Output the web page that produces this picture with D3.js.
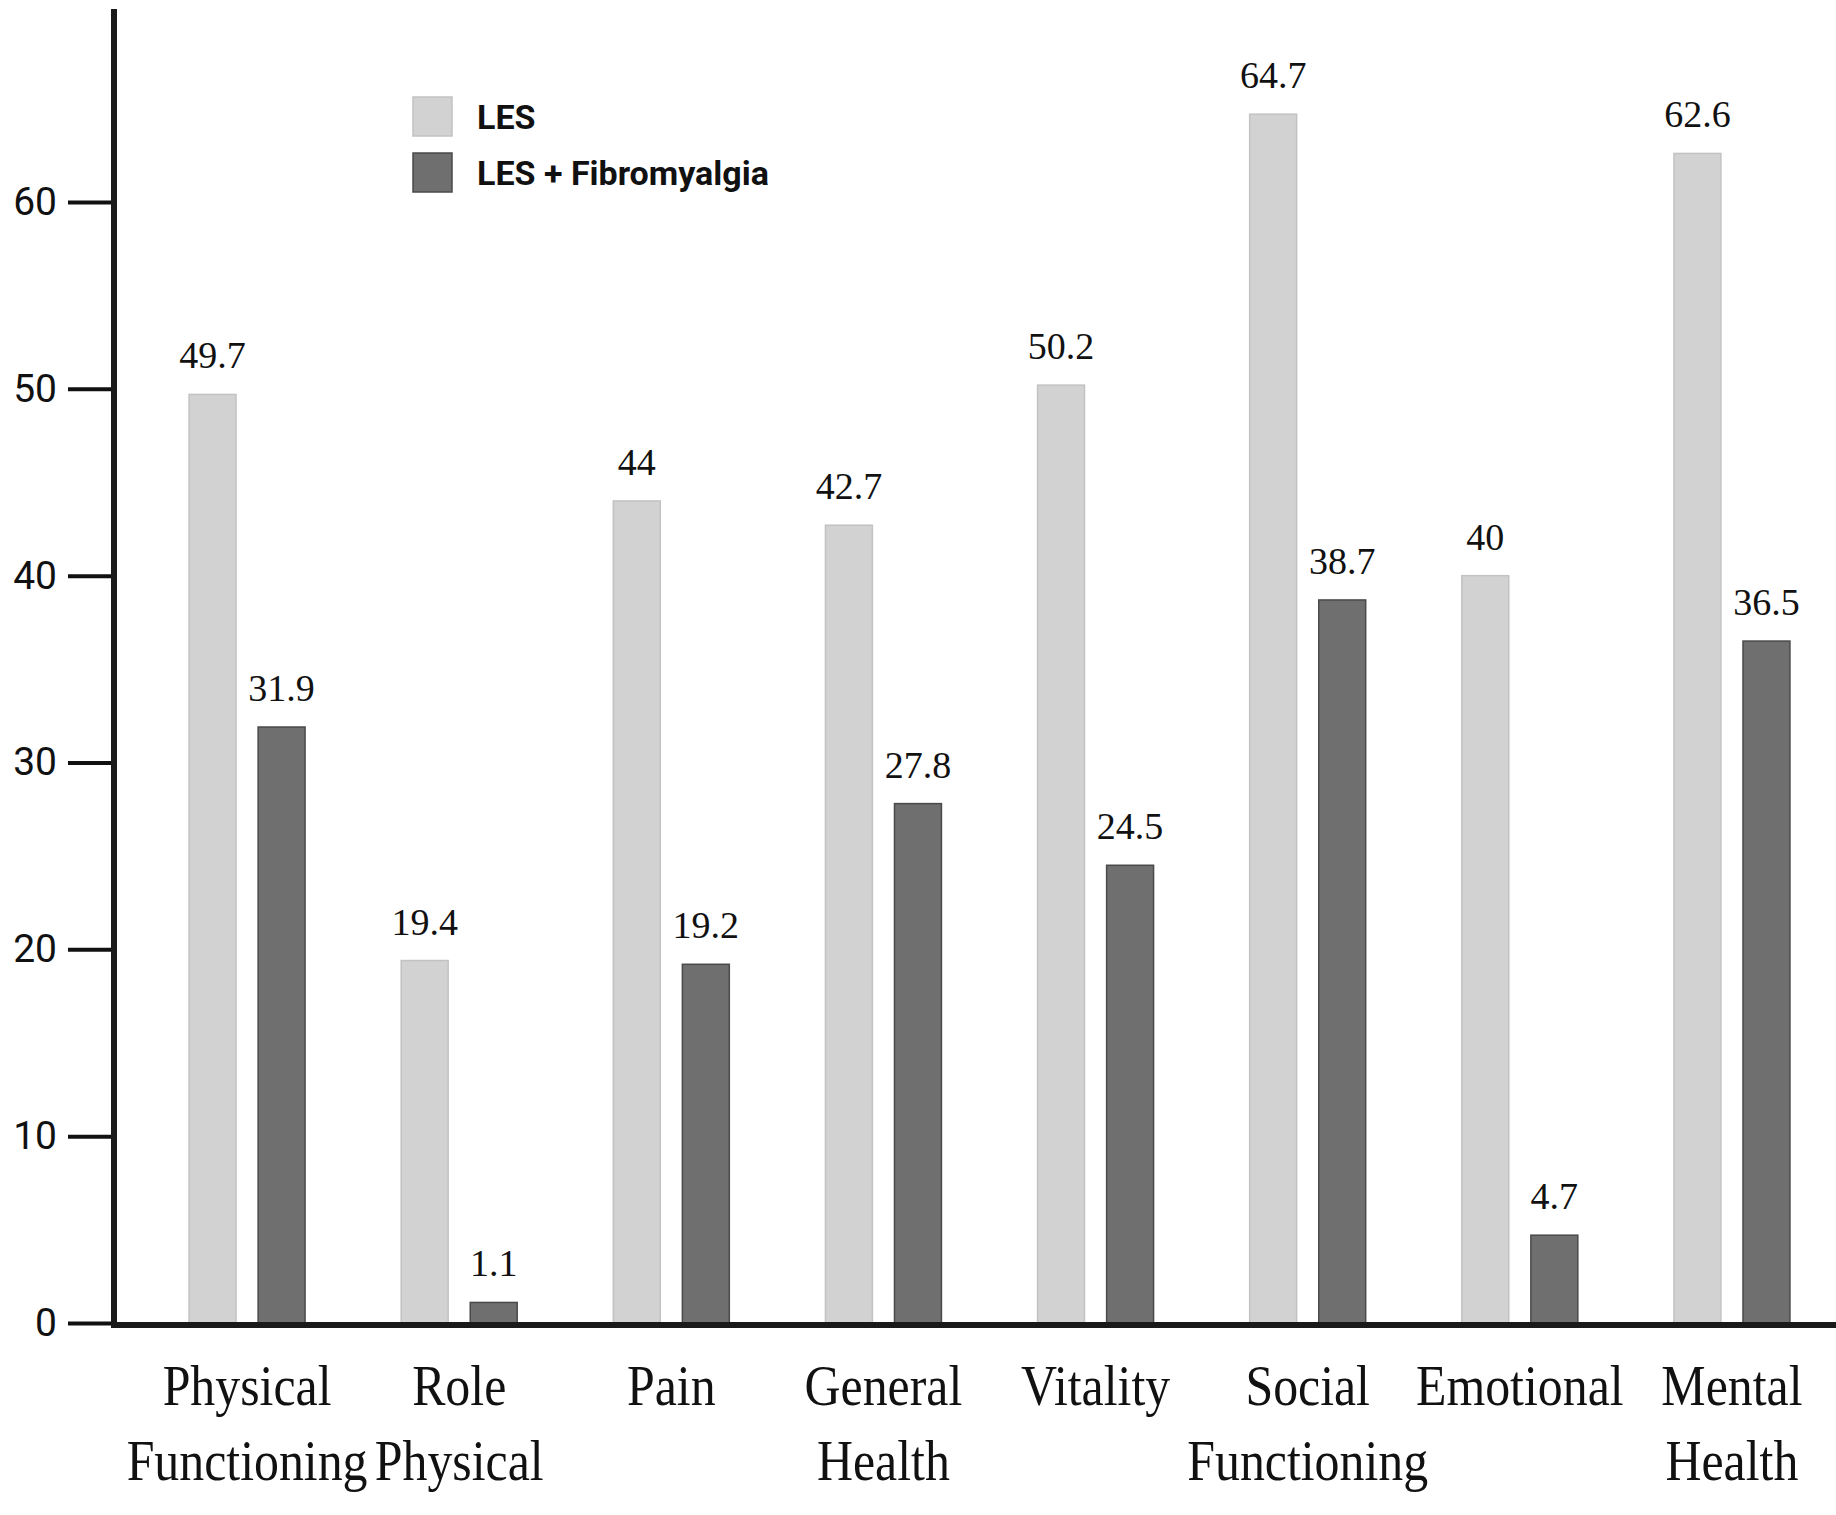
<!DOCTYPE html>
<html>
<head>
<meta charset="utf-8">
<script src="https://cdn.jsdelivr.net/npm/d3@7"></script>
<style>
  body { margin: 0; background: #fff; }
</style>
</head>
<body>
<div id="chart"></div>
<script>
// data
var categories = ["Physical Functioning", "Role Physical", "Pain", "General Health",
                  "Vitality", "Social Functioning", "Emotional", "Mental Health"];
var labelLines = [["Physical", "Functioning"], ["Role", "Physical"], ["Pain"], ["General", "Health"],
                  ["Vitality"], ["Social", "Functioning"], ["Emotional"], ["Mental", "Health"]];
var series = ["LES", "LES + Fibromyalgia"];
var lesValues = [49.7, 19.4, 44, 42.7, 50.2, 64.7, 40, 62.6];
var fibroValues = [31.9, 1.1, 19.2, 27.8, 24.5, 38.7, 4.7, 36.5];
var yTicks = [0, 10, 20, 30, 40, 50, 60];

var width = 1836, height = 1515;
var colors = { "LES": "#d2d2d2", "LES + Fibromyalgia": "#6f6f6f" };
var strokes = { "LES": "#c2c2c2", "LES + Fibromyalgia": "#4a4a4a" };

var svg = d3.select("#chart")
    .append("svg")
    .attr("width", width)
    .attr("height", height)
    .style("background", "#fff");

var axisX = 114;       // y axis position
var baseY = 1325;      // x axis position

// scales
var x = d3.scaleBand()
    .domain(categories)
    .range([141, 1838]);

var xSub = d3.scaleBand()
    .domain(series)
    .range([0, 116])
    .paddingInner(0.32);

var y = d3.scaleLinear()
    .domain([0, 60])
    .range([1323, 202]);

var rows = [];
categories.forEach(function (c, i) {
    rows.push({ cat: c, key: "LES", value: lesValues[i] });
    rows.push({ cat: c, key: "LES + Fibromyalgia", value: fibroValues[i] });
});

function barX(d) {
    return x(d.cat) + x.bandwidth() / 2 - 58 + xSub(d.key);
}

// bars
svg.selectAll("rect.bar")
    .data(rows)
    .enter()
    .append("rect")
    .attr("class", "bar")
    .attr("x", barX)
    .attr("y", function (d) { return y(d.value); })
    .attr("width", xSub.bandwidth())
    .attr("height", function (d) { return baseY - y(d.value); })
    .style("fill", function (d) { return colors[d.key]; })
    .style("stroke", function (d) { return strokes[d.key]; })
    .style("stroke-width", 1.5);

// value labels
svg.selectAll("text.val")
    .data(rows)
    .enter()
    .append("text")
    .attr("class", "val")
    .attr("x", function (d) { return barX(d) + xSub.bandwidth() / 2; })
    .attr("y", function (d) { return y(d.value) - 26; })
    .attr("text-anchor", "middle")
    .style("font-family", "'Liberation Serif', 'Times New Roman', serif")
    .style("font-size", "38px")
    .style("fill", "#111")
    .text(function (d) { return d.value; });

// y axis
var yAxis = d3.axisLeft(y)
    .tickValues(yTicks)
    .tickSize(46)
    .tickPadding(11)
    .tickFormat(d3.format("d"));

var gy = svg.append("g")
    .attr("transform", "translate(" + axisX + ",0)")
    .call(yAxis);
gy.select(".domain").remove();
gy.selectAll(".tick line")
    .style("stroke", "#111")
    .style("stroke-width", 4);
gy.selectAll(".tick text")
    .style("font-family", "Roboto, 'Liberation Sans', Arial, sans-serif")
    .style("font-size", "39px")
    .style("fill", "#111");

// axis lines
svg.append("line")
    .attr("x1", axisX).attr("x2", axisX)
    .attr("y1", 9).attr("y2", baseY + 3)
    .style("stroke", "#1a1a1a")
    .style("stroke-width", 6);

svg.append("line")
    .attr("x1", axisX - 3).attr("x2", width)
    .attr("y1", baseY).attr("y2", baseY)
    .style("stroke", "#1a1a1a")
    .style("stroke-width", 6);

// category labels (serif, a little condensed like the original)
var catG = svg.selectAll("g.cat")
    .data(categories)
    .enter()
    .append("g")
    .attr("class", "cat")
    .attr("transform", function (c) {
        return "translate(" + (x(c) + x.bandwidth() / 2) + ",0) scale(0.89,1)";
    });

catG.append("text")
    .attr("text-anchor", "middle")
    .style("font-family", "'Liberation Serif', 'Times New Roman', serif")
    .style("font-size", "56px")
    .style("fill", "#111")
    .selectAll("tspan")
    .data(function (c, i) { return labelLines[i]; })
    .enter()
    .append("tspan")
    .attr("x", 0)
    .attr("y", function (l, j) { return 1405 + j * 75; })
    .text(function (l) { return l; });

// legend
var legend = svg.append("g")
    .attr("transform", "translate(413,97)");

var legendItems = legend.selectAll("g")
    .data(series)
    .enter()
    .append("g")
    .attr("transform", function (d, i) { return "translate(0," + (i * 56) + ")"; });

legendItems.append("rect")
    .attr("width", 39)
    .attr("height", 39)
    .style("fill", function (d) { return colors[d]; })
    .style("stroke", function (d) { return strokes[d]; })
    .style("stroke-width", 1.5);

legendItems.append("text")
    .attr("x", 64)
    .attr("y", 32)
    .style("font-family", "Roboto, 'Liberation Sans', Arial, sans-serif")
    .style("font-weight", "bold")
    .style("font-size", "34px")
    .style("fill", "#111")
    .text(function (d) { return d; });
</script>
</body>
</html>
